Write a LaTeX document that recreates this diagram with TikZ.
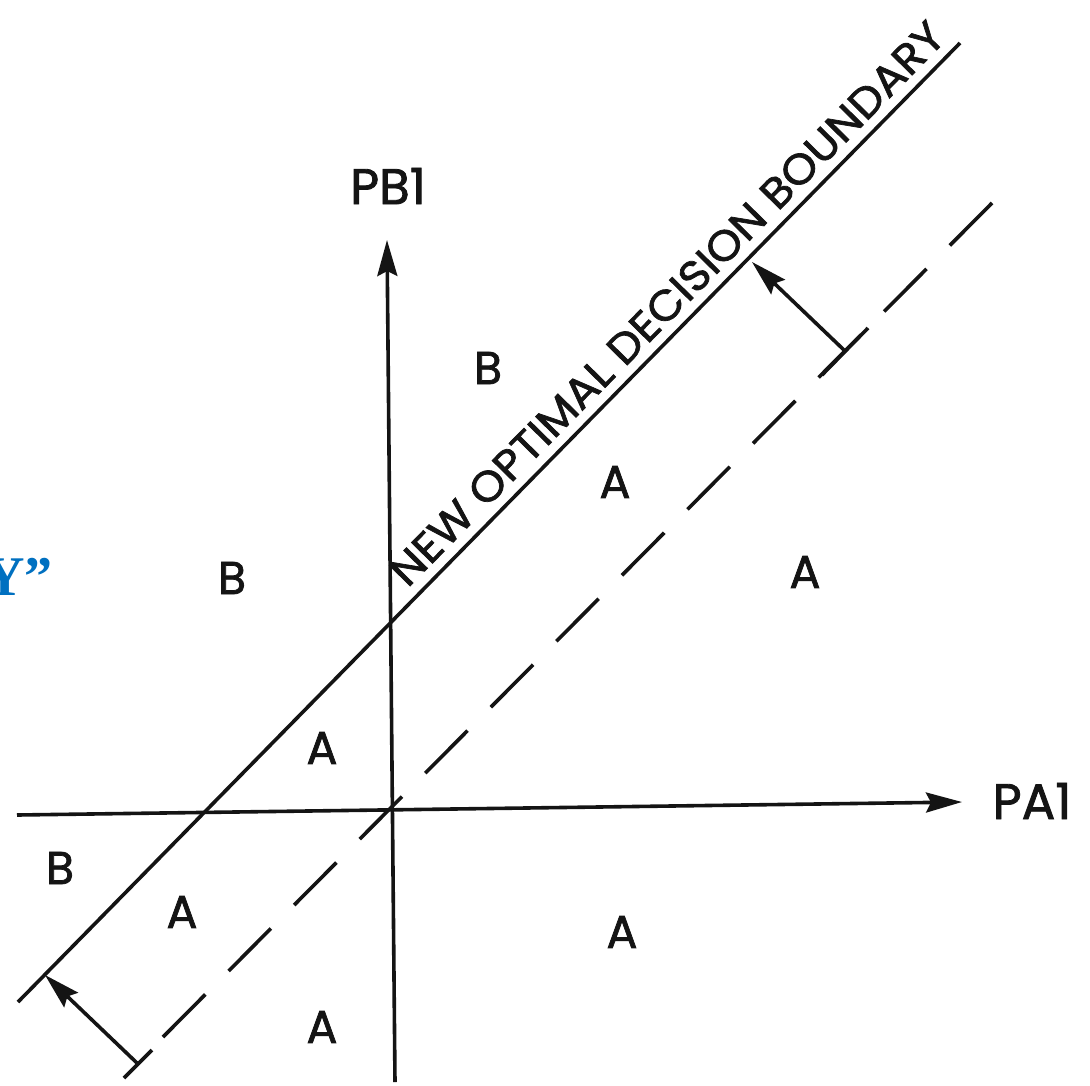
\documentclass[tikz,border=0pt]{standalone}
\usepackage{graphicx}
\usepackage{fontspec}
\setmainfont{Poppins}[FakeBold=1.6]
\newfontfamily\serifb{Liberation Serif}
\usetikzlibrary{arrows.meta}
\definecolor{hdblue}{RGB}{0,112,192}
\begin{document}
\begin{tikzpicture}[x=1pt,y={(0pt,-1pt)},
  ln/.style={line width=3.6pt, draw=black!92},
  tipped/.style={-{Stealth[length=36pt,width=20pt,inset=5pt]}},
  lbl/.style={font=\fontsize{46}{46}\selectfont, inner sep=0pt, text=black!92},
  axlbl/.style={font=\fontsize{50}{50}\selectfont, inner sep=0pt, text=black!92}]
\useasboundingbox[fill=white] (0,0) rectangle (1090,1085);
% axes
\coordinate (hx0) at (17,815);
\coordinate (hx1) at (962,802);
\coordinate (vy0) at (395,1082);
\coordinate (vy1) at (387,240);
\draw[ln,tipped] (hx0) -- (hx1);
\draw[ln,tipped] (vy0) -- (vy1);
\node[axlbl] (pa1) at (1032,801) {PA1};
\node[axlbl] (pb1) at (388,186) {PB1};
% boundaries
\coordinate (s0) at (18,1002);
\coordinate (s1) at (960,43);
\draw[ln] (s0) -- (s1);
\coordinate (d0) at (163,1037);
\coordinate (d1) at (995,200);
\draw[ln, dash pattern=on 60pt off 33pt] (d0) -- (d1);
% shift arrows
\coordinate (ub) at (845,351);
\coordinate (ut) at (752,262);
\coordinate (ua) at (868,328);
\coordinate (uc) at (822,375);
\draw[ln] (ua) -- (uc);
\draw[ln,tipped] (ub) -- (ut);
\coordinate (lb) at (137,1063);
\coordinate (lt) at (45,975);
\coordinate (la) at (152,1050);
\coordinate (lc) at (124,1078);
\draw[ln] (la) -- (lc);
\draw[ln,tipped] (lb) -- (lt);
% title
\node[rotate=45.5, anchor=south west, inner sep=0pt, text=black!92] (title) at (408,589)
  {\resizebox{770pt}{30pt}{NEW OPTIMAL DECISION BOUNDARY}};
% region labels
\node[lbl] (b1) at (488,368) {B};
\node[lbl] (a1) at (615,482) {A};
\node[lbl] (a2) at (805,572) {A};
\node[lbl] (b2) at (232,578) {B};
\node[lbl] (a3) at (322,748) {A};
\node[lbl] (b3) at (60,868) {B};
\node[lbl] (a4) at (182,912) {A};
\node[lbl] (a5) at (622,932) {A};
\node[lbl] (a6) at (322,1027) {A};
% blue fragment
\node[anchor=base east, inner sep=0pt, font=\serifb\bfseries\fontsize{56}{56}\selectfont, text=hdblue] (yq) at (53,595) {Y”};
\end{tikzpicture}
\end{document}
